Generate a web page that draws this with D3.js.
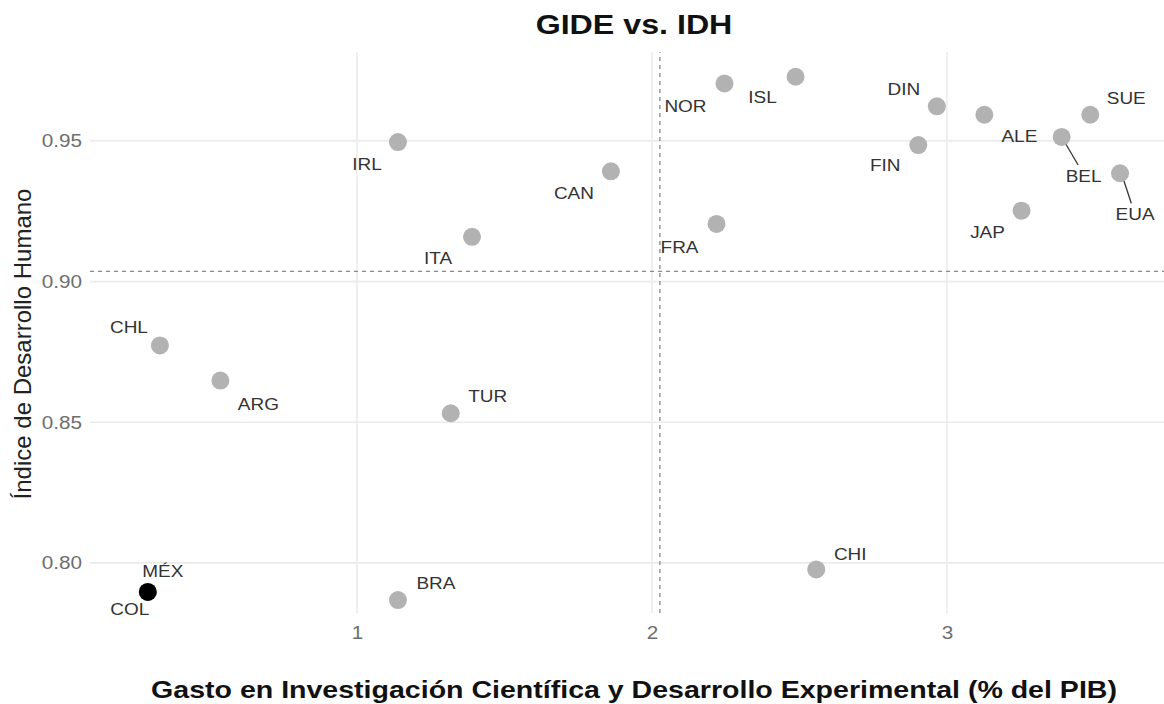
<!DOCTYPE html>
<html>
<head>
<meta charset="utf-8">
<script src="https://cdn.jsdelivr.net/npm/d3@7"></script>
<style>
    body { margin: 0; background: #fff; }
    text { font-family: "Liberation Sans", Arial, sans-serif; }
</style>
</head>
<body>
<svg id="chart" width="1164" height="704"></svg>
<script>

// datos
var paises = ['IRL', 'ITA', 'CAN', 'NOR', 'ISL', 'FRA', 'DIN', 'FIN', 'ALE', 'BEL',
              'SUE', 'EUA', 'JAP', 'CHL', 'ARG', 'TUR', 'MÉX', 'COL', 'BRA', 'CHI'];
var gide = [1.139, 1.390, 1.861, 2.246, 2.487, 2.219, 2.966, 2.903, 3.127, 3.389,
            3.486, 3.587, 3.253, 0.332, 0.537, 1.318, 0.291, 0.291, 1.139, 2.557];
var idh = [0.9496, 0.9159, 0.9392, 0.9704, 0.9728, 0.9205, 0.9623, 0.9485, 0.9593, 0.9514,
           0.9593, 0.9385, 0.9252, 0.8773, 0.8648, 0.8532, 0.7897, 0.7897, 0.7868, 0.7977];
var destacado = 'COL';
var mediaGide = 2.027,
    mediaIdh = 0.9036;
var xTicks = [1, 2, 3],
    yTicks = [0.80, 0.85, 0.90, 0.95];

// desplazamiento de cada etiqueta respecto a su punto (px) y si lleva segmento
var nudge = {
    IRL: [-31, 22], ITA: [-34, 21], CAN: [-37, 22], NOR: [-39, 23], ISL: [-33, 20],
    FRA: [-37, 23], DIN: [-33, -17], FIN: [-33, 20], ALE: [35, 21], BEL: [22, 39, true],
    SUE: [36, -17], EUA: [15, 41, true], JAP: [-34, 21], CHL: [-31, -18], ARG: [38, 23],
    TUR: [37, -17], 'MÉX': [15, -21], COL: [-18, 17], BRA: [38, -17], CHI: [34, -15]
};

var stretch = 1.15;

var svg = d3.select('#chart');

var x = d3.scaleLinear().domain([0.095, 3.736]).range([90, 1164]),
    y = d3.scaleLinear().domain([0.7822, 0.9816]).range([613, 52]);

var datos = paises.map(function(p, i) {
    return {pais: p, gide: gide[i], idh: idh[i]};
});
// el destacado se dibuja al final
datos.sort(function(a, b) { return (a.pais === destacado) - (b.pais === destacado); });

// grilla
svg.append('g').selectAll('line').data(yTicks).enter().append('line')
    .attr('x1', x.range()[0]).attr('x2', x.range()[1])
    .attr('y1', function(d) { return y(d); }).attr('y2', function(d) { return y(d); })
    .attr('stroke', '#ebebeb').attr('stroke-width', 1.6);

svg.append('g').selectAll('line').data(xTicks).enter().append('line')
    .attr('x1', function(d) { return x(d); }).attr('x2', function(d) { return x(d); })
    .attr('y1', y.range()[0]).attr('y2', y.range()[1])
    .attr('stroke', '#ebebeb').attr('stroke-width', 1.6);

// lineas de promedio
svg.append('line')
    .attr('x1', x.range()[0]).attr('x2', x.range()[1])
    .attr('y1', y(mediaIdh)).attr('y2', y(mediaIdh))
    .attr('stroke', '#8a8a8a').attr('stroke-width', 1.3).attr('stroke-dasharray', '4,4');
svg.append('line')
    .attr('x1', x(mediaGide)).attr('x2', x(mediaGide))
    .attr('y1', y.range()[0]).attr('y2', y.range()[1])
    .attr('stroke', '#8a8a8a').attr('stroke-width', 1.3).attr('stroke-dasharray', '4,4');

// ejes (solo etiquetas)
var xAxis = svg.append('g')
    .attr('transform', 'translate(0,' + (y.range()[0] + 5) + ')')
    .call(d3.axisBottom(x).tickValues(xTicks).tickFormat(d3.format('d')).tickSize(0).tickPadding(8));
var yAxis = svg.append('g')
    .attr('transform', 'translate(' + (x.range()[0] - 4) + ',0)')
    .call(d3.axisLeft(y).tickValues(yTicks).tickFormat(d3.format('.2f')).tickSize(0).tickPadding(4));

[xAxis, yAxis].forEach(function(ax) {
    ax.select('.domain').remove();
    ax.selectAll('text')
        .attr('fill', '#6e6e6e')
        .style('font-size', '18px')
        .style('font-family', '"Liberation Sans", Arial, sans-serif');
});
yAxis.selectAll('.tick text')
    .attr('transform', 'scale(' + stretch + ',1)')
    .attr('x', -4 / stretch);
xAxis.selectAll('.tick text').attr('transform', 'scale(' + stretch + ',1)');

// segmentos de etiquetas
svg.append('g').selectAll('line')
    .data(datos.filter(function(d) { return nudge[d.pais][2]; }))
    .enter().append('line')
    .attr('x1', function(d) { return x(d.gide) + 3; })
    .attr('y1', function(d) { return y(d.idh) + 5; })
    .attr('x2', function(d) { return x(d.gide) + nudge[d.pais][0] * 0.75; })
    .attr('y2', function(d) { return y(d.idh) + nudge[d.pais][1] - 11; })
    .attr('stroke', '#333').attr('stroke-width', 1.3);

// puntos
svg.append('g').selectAll('circle').data(datos).enter().append('circle')
    .attr('cx', function(d) { return x(d.gide); })
    .attr('cy', function(d) { return y(d.idh); })
    .attr('r', 9)
    .attr('fill', function(d) { return d.pais === destacado ? '#000' : '#b2b2b2'; });

// etiquetas
svg.append('g').selectAll('text').data(datos).enter().append('text')
    .attr('transform', function(d) {
        var n = nudge[d.pais];
        return 'translate(' + (x(d.gide) + n[0]) + ',' + (y(d.idh) + n[1]) + ') scale(' + stretch + ',1)';
    })
    .attr('text-anchor', 'middle')
    .attr('dy', '0.36em')
    .attr('fill', '#333')
    .style('font-size', '16.5px')
    .text(function(d) { return d.pais; });

// titulos
svg.append('text')
    .attr('transform', 'translate(634,34) scale(' + stretch + ',1)')
    .attr('text-anchor', 'middle')
    .attr('fill', '#111')
    .style('font-size', '28px').style('font-weight', 'bold')
    .text('GIDE vs. IDH');

svg.append('text')
    .attr('transform', 'translate(634,698) scale(1.19,1)')
    .attr('text-anchor', 'middle')
    .attr('fill', '#111')
    .style('font-size', '24px').style('font-weight', 'bold')
    .text('Gasto en Investigación Científica y Desarrollo Experimental (% del PIB)');

svg.append('text')
    .attr('transform', 'translate(31,344) rotate(-90)')
    .attr('text-anchor', 'middle')
    .attr('fill', '#222')
    .style('font-size', '24px')
    .text('Índice de Desarrollo Humano');

</script>
</body>
</html>
